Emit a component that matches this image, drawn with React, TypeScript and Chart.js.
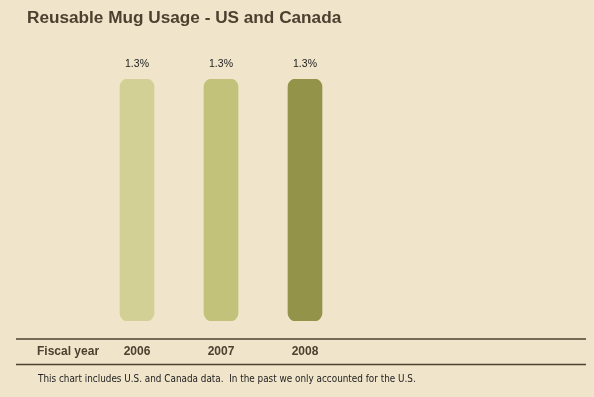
import React, { useEffect, useRef } from "react";
import { Chart, registerables } from "chart.js";

Chart.register(...registerables);

const TITLE = "Reusable Mug Usage - US and Canada";
const AXIS_TITLE = "Fiscal year";
const FOOTNOTE = "This chart includes U.S. and Canada data.  In the past we only accounted for the U.S.";
const categories = ["2006", "2007", "2008"];
const usage = [1.3, 1.3, 1.3];
const barColors = ["#D2D094", "#C2C27A", "#939349"];

const BG = "#F0E5CA";
const BROWN = "#4E4030";

const decor = {
  id: "decor",
  afterDatasetsDraw(chart: any) {
    const { ctx } = chart;
    const xs = chart.scales.x;
    const meta = chart.getDatasetMeta(0);
    ctx.save();
    // title
    ctx.fillStyle = BROWN;
    ctx.font = "bold 17.2px 'Liberation Sans', Arial, sans-serif";
    ctx.textBaseline = "alphabetic";
    ctx.textAlign = "left";
    ctx.fillText(TITLE, 27, 23);
    // value labels
    ctx.fillStyle = "#222";
    ctx.font = "10.5px 'Liberation Sans', Arial, sans-serif";
    ctx.textAlign = "center";
    ctx.textBaseline = "middle";
    meta.data.forEach((bar: any, i: number) => {
      ctx.fillText(usage[i].toFixed(1) + "%", bar.x, 64);
    });
    // rules
    ctx.strokeStyle = BROWN;
    ctx.lineWidth = 1.5;
    ctx.beginPath();
    ctx.moveTo(16, 339);
    ctx.lineTo(586, 339);
    ctx.moveTo(16, 364.5);
    ctx.lineTo(586, 364.5);
    ctx.stroke();
    // axis labels
    ctx.fillStyle = BROWN;
    ctx.font = "bold 12px 'Liberation Sans', Arial, sans-serif";
    ctx.textAlign = "left";
    ctx.fillText(AXIS_TITLE, 37, 352);
    ctx.textAlign = "center";
    categories.forEach((c, i) => {
      ctx.fillText(c, xs.getPixelForValue(i), 352);
    });
    // footnote
    ctx.fillStyle = "#222";
    ctx.font = "9.85px 'DejaVu Sans Condensed', 'DejaVu Sans', sans-serif";
    ctx.textAlign = "left";
    ctx.fillText(FOOTNOTE, 38, 379);
    ctx.restore();
  },
};

export default function App() {
  const ref = useRef<HTMLCanvasElement>(null);
  useEffect(() => {
    if (!ref.current) return;
    const chart = new Chart(ref.current, {
      type: "bar",
      data: {
        labels: categories,
        datasets: [
          {
            data: usage,
            backgroundColor: barColors,
            borderRadius: 8,
            borderSkipped: false,
            barThickness: 34,
          },
        ],
      },
      options: {
        animation: false,
        responsive: false,
        maintainAspectRatio: false,
        layout: { padding: { left: 95, right: 247, top: 79, bottom: 76 } },
        plugins: { legend: { display: false }, tooltip: { enabled: false } },
        scales: {
          x: { display: false },
          y: { display: false, min: 0, max: 1.3 },
        },
      },
      plugins: [decor],
    });
    return () => chart.destroy();
  }, []);
  return (
    <div style={{ position: "fixed", left: 0, top: 0, width: 594, height: 397, background: BG }}>
      <canvas ref={ref} width={594} height={397} style={{ display: "block" }} />
    </div>
  );
}
